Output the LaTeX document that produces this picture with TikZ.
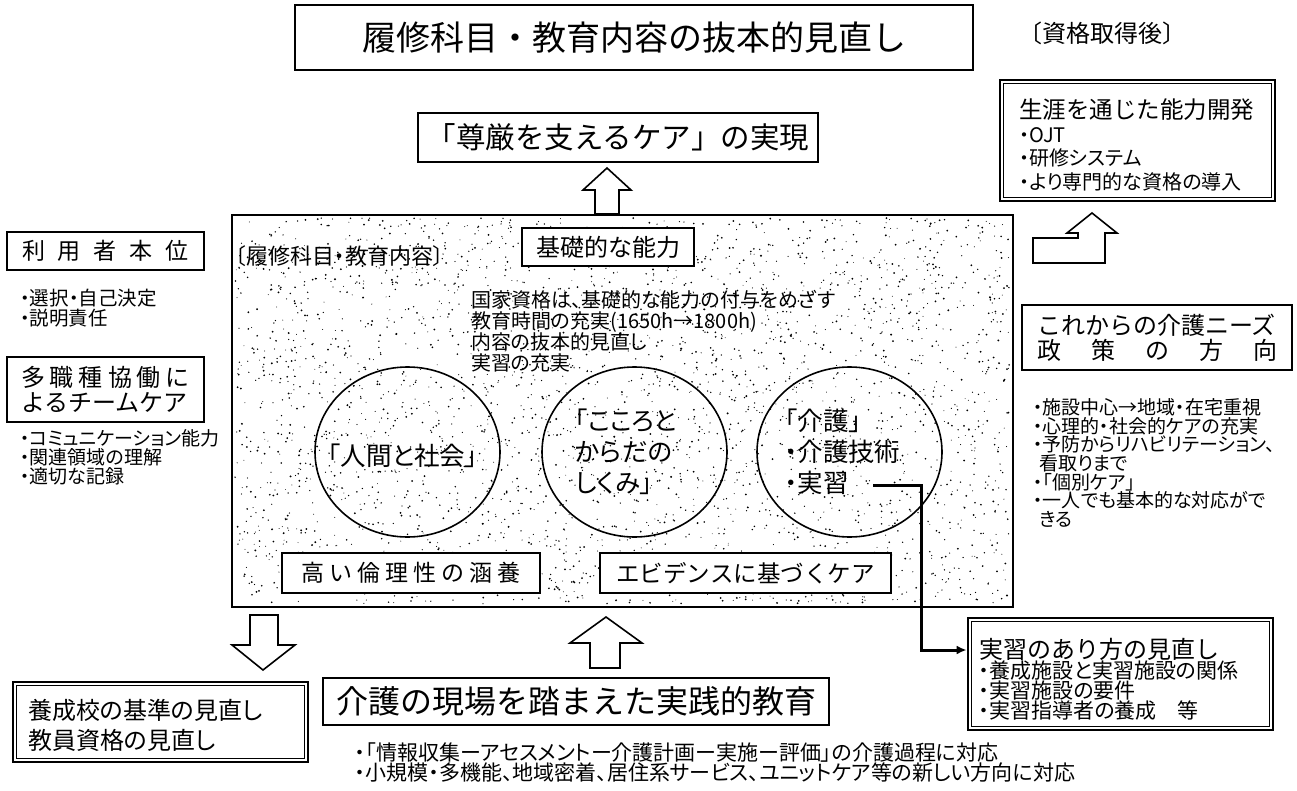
\documentclass[tikz,border=0pt]{standalone}
\usepackage{fontspec}
\setmainfont{Noto Sans CJK JP}
\newfontfamily\jp{Noto Sans CJK JP}
\newfontfamily\jpp{Noto Sans CJK JP}[RawFeature=+palt]
\usetikzlibrary{arrows.meta,shapes.geometric}
\newcommand{\setfs}[2]{\fontsize{#1pt}{#2pt}\selectfont}
\begin{document}
\begin{tikzpicture}[x=1pt,y=-1pt,
  box/.style={draw, line width=1.7pt, fill=white, inner sep=0pt, align=center},
  dbox/.style={draw, line width=2.8pt, fill=white, inner sep=0pt},
  blockarrow/.style={draw, line width=1.6pt, fill=white, line join=miter},
  conn/.style={line width=3pt, -{Latex[length=10pt,width=9pt]}},
  circ/.style={draw, line width=1.6pt},
  txt/.style={inner sep=0pt, align=left}]
\useasboundingbox (0,0) rectangle (1297,791);
\fill[white] (0,0) rectangle (1297,791);

% title
\node[box, minimum width=678pt, minimum height=65pt, font=\jp\setfs{34}{40}] (title) at (634,37.5) {履修科目・教育内容の抜本的見直し};
\node[txt, anchor=west, font=\jp\setfs{24}{28}] (after) at (1018,33) {〔資格取得後〕};

% dignity box and arrow
\node[box, minimum width=400pt, minimum height=49pt, font=\jp\setfs{29.5}{34}] (songen) at (618,137.5) {「尊厳を支えるケア」の実現};
\draw[blockarrow] (595,214) -- (595,190) -- (583,190) -- (607,168) -- (631,190) -- (619,190) -- (619,214) -- cycle;

% lifelong box
\node[dbox, minimum width=275pt, minimum height=121pt] (shogai) at (1137.5,140.5) {};
\draw[line width=1.1pt] ([shift={(4.5,4.5)}]shogai.north west) rectangle ([shift={(-4.5,-4.5)}]shogai.south east);
\node[txt, anchor=west, font=\jpp\setfs{20}{23.5}] (shogaitxt) at (1019,145) {{\jp\setfs{23.5}{23.5}生涯を通じた能力開発}\\・OJT\\・研修システム\\・より専門的な資格の導入};
\draw[blockarrow] (1033,263) -- (1105,263) -- (1105,233) -- (1117,233) -- (1092,213) -- (1067,233) -- (1078,233) -- (1078,238) -- (1033,238) -- cycle;

% main stippled box
\node[draw, line width=1.7pt, minimum width=781pt, minimum height=392pt, inner sep=0pt] (main) at (622.5,411) {};
\pgfmathsetseed{4242}
\foreach \i in {1,...,3200}{
  \pgfmathsetmacro{\dx}{235+775*rnd}
  \pgfmathsetmacro{\dy}{218+386*rnd}
  \pgfmathsetmacro{\dr}{0.45+0.6*rnd}
  \fill (\dx,\dy) circle (\dr);
}
\node[txt, anchor=west, font=\jpp\setfs{22}{26}] (rishu) at (235,256) {〔履修科目・教育内容〕};
\node[box, minimum width=172pt, minimum height=38pt, font=\jp\setfs{24}{28}] (kiso) at (608,247) {基礎的な能力};
\node[txt, anchor=west, font=\jpp\setfs{20}{21}] (kokka) at (471,331.5) {国家資格は、基礎的な能力の付与をめざす\\教育時間の充実(1650h→1800h)\\内容の抜本的見直し\\実習の充実};

\node[circ, ellipse, minimum width=185pt, minimum height=170pt, inner sep=0pt] (c1) at (407.5,452) {};
\node[circ, ellipse, minimum width=185pt, minimum height=170pt, inner sep=0pt] (c2) at (634.5,452) {};
\node[circ, ellipse, minimum width=185pt, minimum height=170pt, inner sep=0pt] (c3) at (849.5,452) {};
\node[txt, font=\jpp\setfs{25.5}{31}] (c1t) at (403,456) {「人間と社会」};
\node[txt, anchor=west, font=\jpp\setfs{25.5}{31}] (c2t) at (575,452) {「こころと\\からだの\\しくみ」};
\node[txt, anchor=west, font=\jpp\setfs{25.5}{31}] (c3t) at (785,452) {「介護」\\・介護技術\\・実習};
\coordinate (jsend) at (873,485);

\node[box, minimum width=258pt, minimum height=40pt, font=\jp\setfs{23}{28}] (rinri) at (411,573) {高\hspace{5pt}い\hspace{5pt}倫\hspace{5pt}理\hspace{5pt}性\hspace{5pt}の\hspace{5pt}涵\hspace{5pt}養};
\node[box, minimum width=291pt, minimum height=40pt, font=\jp\setfs{23.5}{28}] (evid) at (745.5,573) {エビデンスに基づくケア};

% left column
\node[box, minimum width=197pt, minimum height=38pt, font=\jp\setfs{23}{28}] (riyo) at (105.5,251) {利\hspace{13pt}用\hspace{13pt}者\hspace{13pt}本\hspace{13pt}位};
\node[txt, anchor=west, font=\jpp\setfs{19.5}{20}] (riyol) at (20,308) {・選択・自己決定\\・説明責任};
\node[box, minimum width=197pt, minimum height=65pt, font=\jp\setfs{24}{25}, align=left] (tashoku) at (105.5,389.5) {多\hspace{5pt}職\hspace{5pt}種\hspace{5pt}協\hspace{5pt}働\hspace{5pt}に\\よるチームケア};
\node[txt, anchor=west, font=\jpp\setfs{19}{19}] (tashokul) at (20,457) {・コミュニケーション能力\\・関連領域の理解\\・適切な記録};

% right column
\node[box, minimum width=270pt, minimum height=65pt, font=\jp\setfs{24}{25}, align=left] (needs) at (1157,337.5) {これからの介護ニーズ\\政\hspace{30pt}策\hspace{30pt}の\hspace{30pt}方\hspace{30pt}向};
\node[txt, anchor=west, font=\jpp\setfs{19}{18.7}] (needsl) at (1033,463) {・施設中心→地域・在宅重視\\・心理的・社会的ケアの充実\\・予防からリハビリテーション、\\\hspace*{6pt}看取りまで\\・「個別ケア」\\・一人でも基本的な対応がで\\\hspace*{6pt}きる};

\node[dbox, minimum width=305pt, minimum height=112pt] (jbox) at (1120.5,674) {};
\draw[line width=1.1pt] ([shift={(4.5,4.5)}]jbox.north west) rectangle ([shift={(-4.5,-4.5)}]jbox.south east);
\node[txt, anchor=west, font=\jpp\setfs{21}{20}] (jtxt) at (979,679) {{\jp\setfs{24}{24}実習のあり方の見直し}\\・養成施設と実習施設の関係\\・実習施設の要件\\・実習指導者の養成　等};
\coordinate (jturn) at (921,650);
\draw[conn] (jsend) -| (jturn) -- ([yshift=24pt]jbox.west);

% bottom
\draw[blockarrow] (250,615) -- (278,615) -- (278,645) -- (295,645) -- (263,670) -- (232,645) -- (250,645) -- cycle;
\draw[blockarrow] (590,668) -- (590,643) -- (570,643) -- (606,617) -- (642,643) -- (620,643) -- (620,668) -- cycle;

\node[dbox, minimum width=295pt, minimum height=80pt] (yosei) at (160.5,722) {};
\draw[line width=1.1pt] ([shift={(4.5,4.5)}]yosei.north west) rectangle ([shift={(-4.5,-4.5)}]yosei.south east);
\node[txt, anchor=west, font=\jpp\setfs{24}{30}] (yoseit) at (28,725) {養成校の基準の見直し\\教員資格の見直し};

\node[box, minimum width=506pt, minimum height=47pt, font=\jp\setfs{32}{36}] (genba) at (576,701.5) {介護の現場を踏まえた実践的教育};
\node[txt, anchor=west, font=\jpp\setfs{21}{20}] (genbal) at (355,762) {・「情報収集ーアセスメントー介護計画ー実施ー評価」の介護過程に対応\\・小規模・多機能、地域密着、居住系サービス、ユニットケア等の新しい方向に対応};
\end{tikzpicture}
\end{document}
